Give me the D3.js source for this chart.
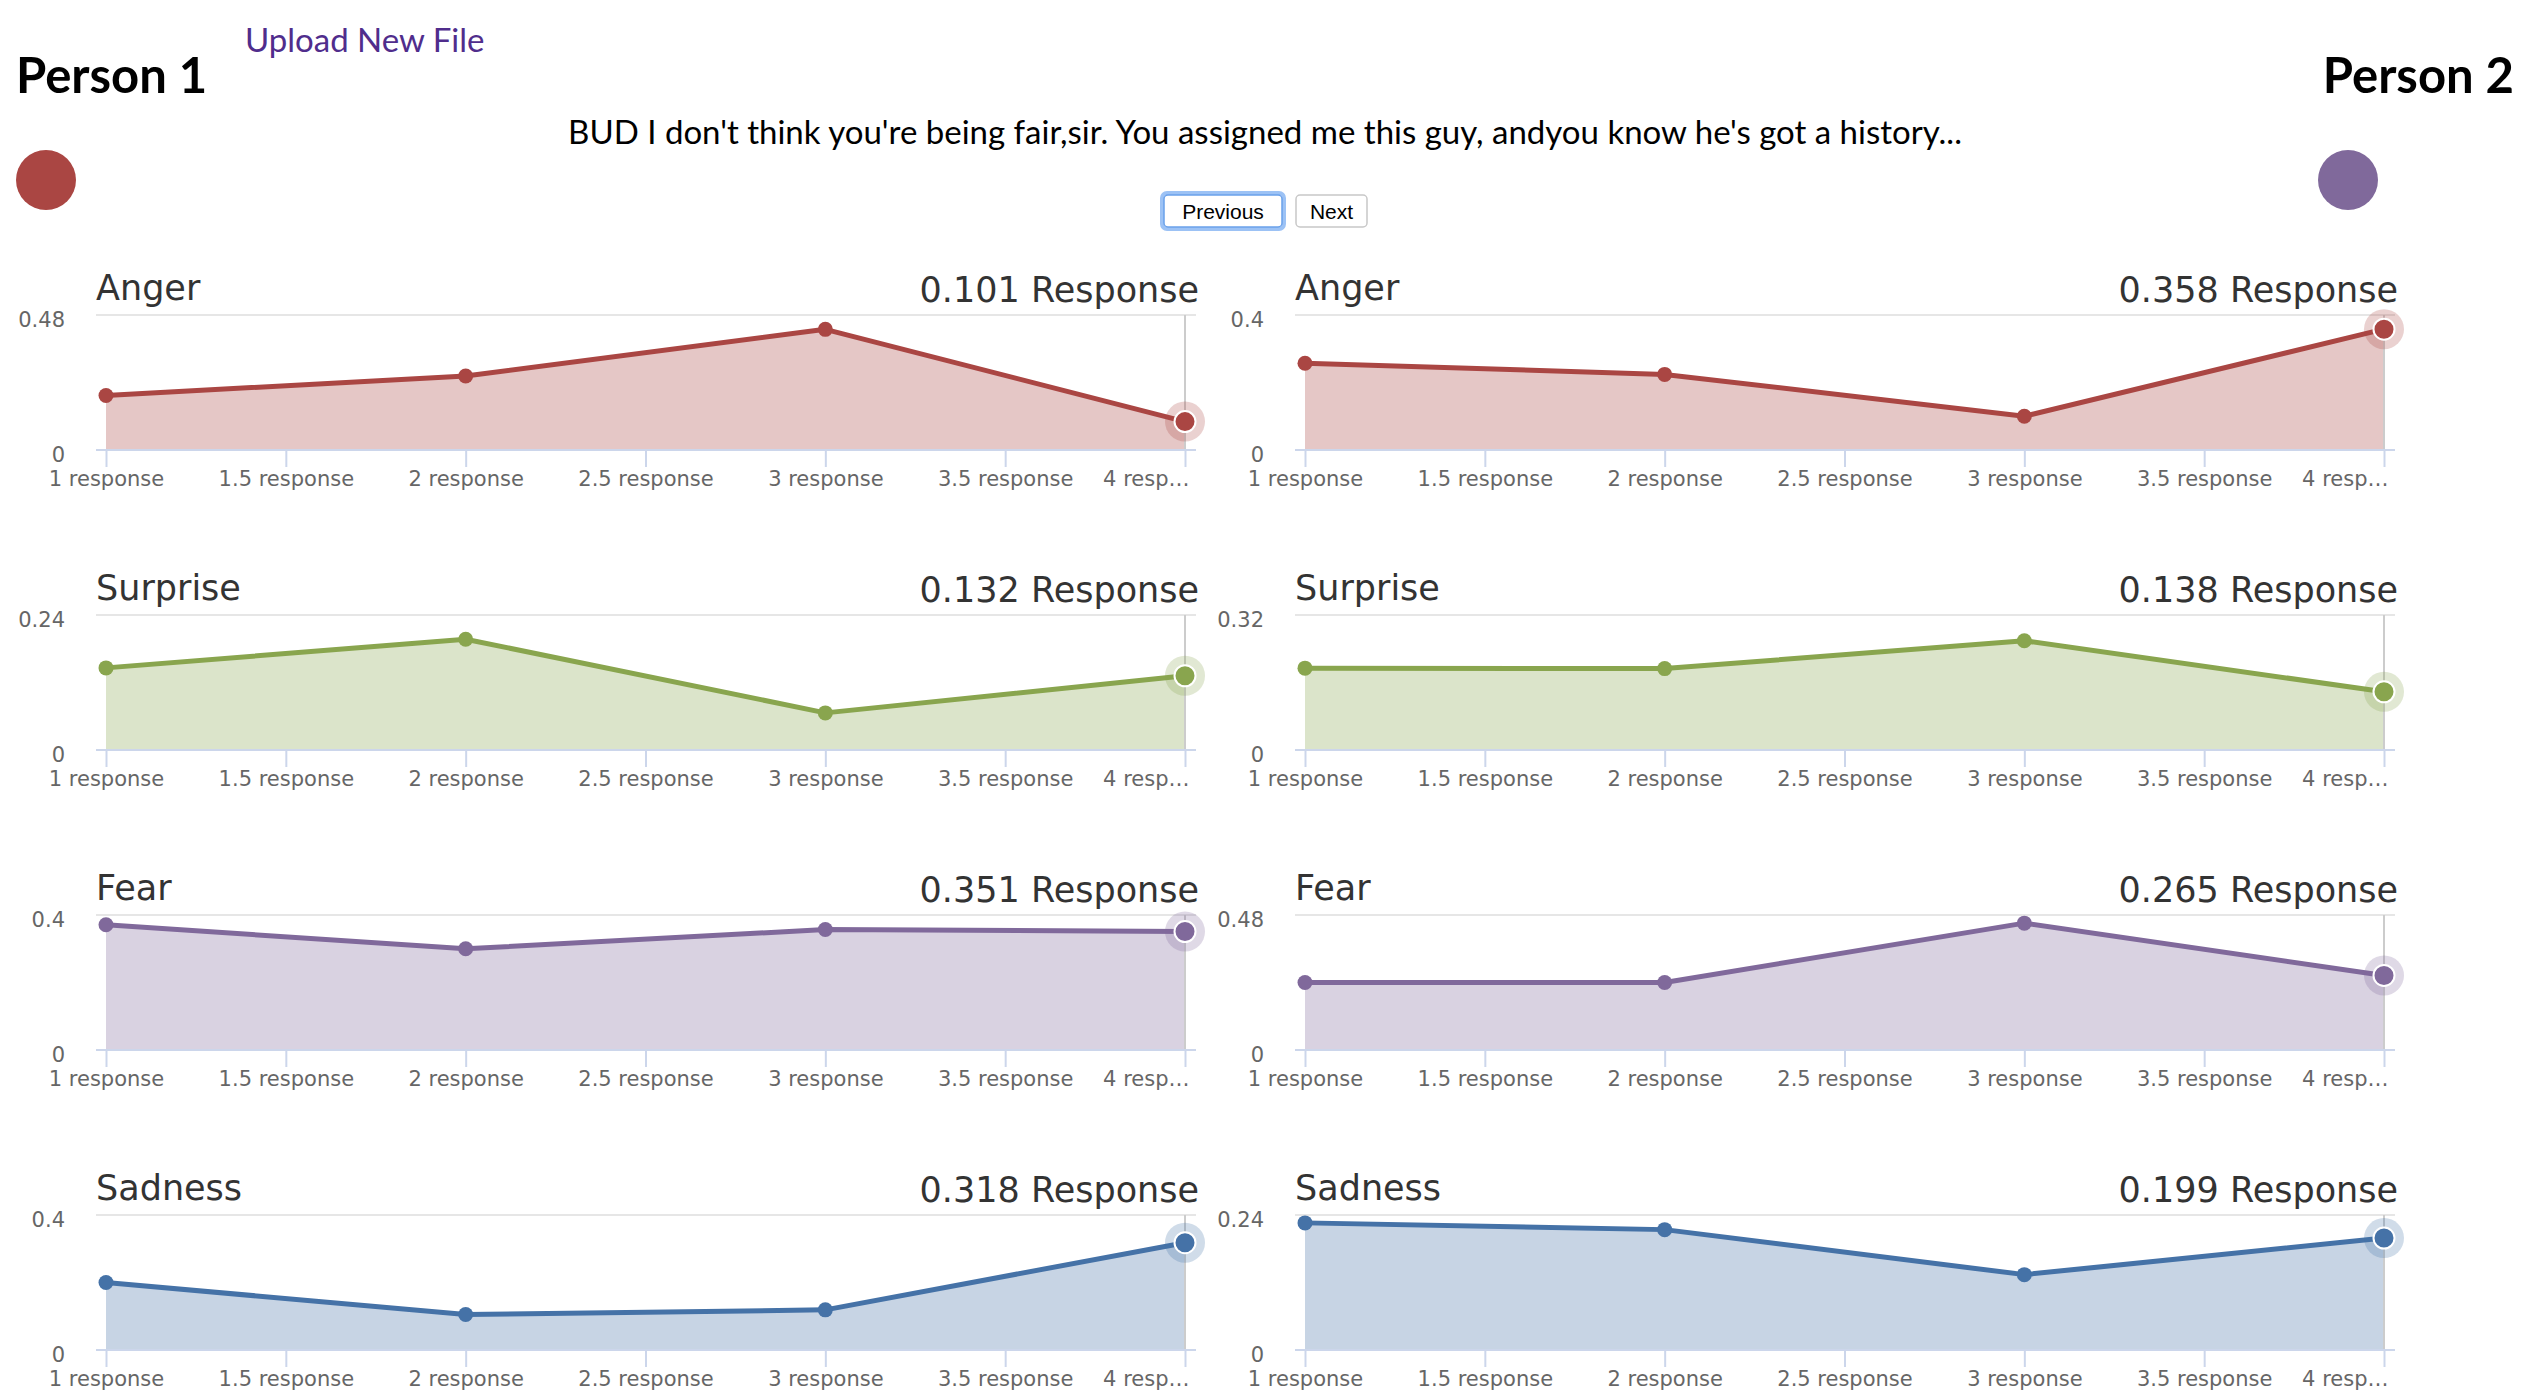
<!DOCTYPE html>
<html>
<head>
<meta charset="utf-8">
<script src="https://cdn.jsdelivr.net/npm/d3@7"></script>
<style>
  body { margin: 0; background: #fff; }
  .head { font-family: Lato, "Open Sans", sans-serif; }
  .chart text { font-family: "DejaVu Sans", Verdana, sans-serif; }
  .title { font-size: 35px; fill: #333; }
  .tick-label { font-size: 21px; fill: #666; }
</style>
</head>
<body>
<svg id="page" width="2530" height="1394"></svg>
<script>
// DATA
const responses = [1, 2, 3, 4];
const xTickValues = [1, 1.5, 2, 2.5, 3, 3.5, 4];
const emotions = ["Anger", "Surprise", "Fear", "Sadness"];
const colors = ["#AA4643", "#89A54E", "#80699B", "#4572A7"];

// person 1, one array per emotion
const p1Anger = [0.194, 0.263, 0.429, 0.101];
const p1Surprise = [0.146, 0.197, 0.066, 0.132];
const p1Fear = [0.371, 0.300, 0.357, 0.351];
const p1Sadness = [0.200, 0.105, 0.119, 0.318];
const p1Max = [0.48, 0.24, 0.4, 0.4];

// person 2
const p2Anger = [0.257, 0.224, 0.100, 0.358];
const p2Surprise = [0.194, 0.193, 0.259, 0.138];
const p2Fear = [0.240, 0.240, 0.451, 0.265];
const p2Sadness = [0.226, 0.214, 0.134, 0.199];
const p2Max = [0.4, 0.32, 0.48, 0.24];

const sentence = "BUD I don't think you're being fair,sir. You assigned me this guy, andyou know he's got a history...";

// SETUP
const W = 2530;
const svg = d3.select("#page");

// HEADER
const head = svg.append("g").attr("class", "head");

head.append("text")
    .attr("x", 16).attr("y", 93)
    .attr("font-size", 49).attr("font-weight", "bold")
    .attr("fill", "#000")
    .text("Person 1");

head.append("text")
    .attr("x", W - 16).attr("y", 93)
    .attr("text-anchor", "end")
    .attr("font-size", 49).attr("font-weight", "bold")
    .attr("fill", "#000")
    .text("Person 2");

head.append("text")
    .attr("x", 245).attr("y", 52)
    .attr("font-size", 33)
    .attr("fill", "#502d8c")
    .text("Upload New File");

head.append("circle").attr("cx", 46).attr("cy", 180).attr("r", 30).attr("fill", colors[0]);
head.append("circle").attr("cx", 2348).attr("cy", 180).attr("r", 30).attr("fill", colors[2]);

head.append("text")
    .attr("x", W / 2).attr("y", 144)
    .attr("text-anchor", "middle")
    .attr("font-size", 33)
    .attr("fill", "#000")
    .text(sentence);

// buttons
const buttons = [
    { label: "Previous", x: 1164, w: 118, focus: true },
    { label: "Next", x: 1296, w: 71, focus: false }
];
buttons.forEach(b => {
    if (b.focus) {
        head.append("rect")
            .attr("x", b.x - 2).attr("y", 193).attr("width", b.w + 4).attr("height", 36)
            .attr("rx", 5).attr("fill", "none")
            .attr("stroke", "#9cc2f5").attr("stroke-width", 4);
    }
    head.append("rect")
        .attr("x", b.x).attr("y", 195).attr("width", b.w).attr("height", 32)
        .attr("rx", 4).attr("fill", "#fff")
        .attr("stroke", b.focus ? "#6aa1ea" : "#c8c8c8").attr("stroke-width", 1.5);
    head.append("text")
        .attr("x", b.x + b.w / 2).attr("y", 219)
        .attr("text-anchor", "middle")
        .attr("font-family", "'Liberation Sans', Arial, sans-serif")
        .attr("font-size", 21)
        .attr("fill", "#000")
        .text(b.label);
});

// CHARTS
const plotW = 1079, plotH = 135;
const colX = [106, 1305];
const rowY = emotions.map((e, i) => 315 + 300 * i);

const seriesByPerson = [
    [p1Anger, p1Surprise, p1Fear, p1Sadness],
    [p2Anger, p2Surprise, p2Fear, p2Sadness]
];
const maxByPerson = [p1Max, p2Max];

function drawChart(col, row) {
    const values = seriesByPerson[col][row];
    const yMax = maxByPerson[col][row];
    const color = colors[row];
    const data = responses.map((r, i) => ({ r, v: values[i] }));

    const g = svg.append("g")
        .attr("class", "chart")
        .attr("transform", `translate(${colX[col]},${rowY[row]})`);

    const x = d3.scaleLinear().domain([1, 4]).range([0, plotW]);
    const y = d3.scaleLinear().domain([0, yMax]).range([plotH, 0]);

    // grid line at top value
    g.append("line")
        .attr("x1", -10).attr("x2", plotW + 11)
        .attr("y1", y(yMax)).attr("y2", y(yMax))
        .attr("stroke", "#e6e6e6").attr("stroke-width", 2);

    // area + line
    const area = d3.area().x(d => x(d.r)).y0(y(0)).y1(d => y(d.v));
    const line = d3.line().x(d => x(d.r)).y(d => y(d.v));

    g.append("path").datum(data).attr("d", area)
        .attr("fill", color).attr("fill-opacity", 0.3);

    // crosshair at last point
    g.append("line")
        .attr("x1", x(4)).attr("x2", x(4))
        .attr("y1", y(yMax)).attr("y2", y(0))
        .attr("stroke", "#cccccc").attr("stroke-width", 2);

    g.append("path").datum(data).attr("d", line)
        .attr("fill", "none").attr("stroke", color).attr("stroke-width", 5)
        .attr("stroke-linejoin", "round");

    // x axis
    const xAxis = g.append("g")
        .attr("transform", `translate(0,${plotH})`)
        .call(d3.axisBottom(x)
            .tickValues(xTickValues)
            .tickSize(17)
            .tickPadding(4)
            .tickFormat(d => d === 4 ? "4 resp\u2026" : d + " response"));
    xAxis.select(".domain").remove();
    xAxis.selectAll(".tick line").attr("stroke", "#ccd6eb").attr("stroke-width", 2);
    xAxis.selectAll(".tick text")
        .attr("class", "tick-label")
        .attr("font-size", null).attr("font-family", null)
        .attr("fill", null)
        .attr("y", 36).attr("dy", 0)
        .filter(d => d === 4)
        .attr("text-anchor", "end").attr("x", 4);
    g.append("line")
        .attr("x1", -10).attr("x2", plotW + 11)
        .attr("y1", plotH).attr("y2", plotH)
        .attr("stroke", "#ccd6eb").attr("stroke-width", 2);

    // y axis: only 0 and max
    const yAxis = g.append("g")
        .call(d3.axisLeft(y).tickValues([0, yMax]).tickSize(0).tickPadding(41)
            .tickFormat(d3.format("~g")));
    yAxis.select(".domain").remove();
    yAxis.selectAll(".tick text")
        .attr("class", "tick-label")
        .attr("font-size", null).attr("font-family", null)
        .attr("fill", null)
        .attr("dy", 11);

    // markers
    g.selectAll(".pt").data(data.slice(0, 3)).enter().append("circle")
        .attr("cx", d => x(d.r)).attr("cy", d => y(d.v))
        .attr("r", 7.5).attr("fill", color);

    const last = data[3];
    g.append("circle")
        .attr("cx", x(last.r)).attr("cy", y(last.v))
        .attr("r", 20).attr("fill", color).attr("fill-opacity", 0.25);
    g.append("circle")
        .attr("cx", x(last.r)).attr("cy", y(last.v))
        .attr("r", 10.5).attr("fill", color)
        .attr("stroke", "#fff").attr("stroke-width", 2);

    // titles
    g.append("text")
        .attr("class", "title")
        .attr("x", -10).attr("y", -15)
        .text(emotions[row]);
    g.append("text")
        .attr("class", "title")
        .attr("x", plotW + 14).attr("y", -13)
        .attr("text-anchor", "end")
        .text(d3.format(".3f")(last.v) + " Response");
}

[0, 1].forEach(col => emotions.forEach((e, row) => drawChart(col, row)));
</script>
</body>
</html>
